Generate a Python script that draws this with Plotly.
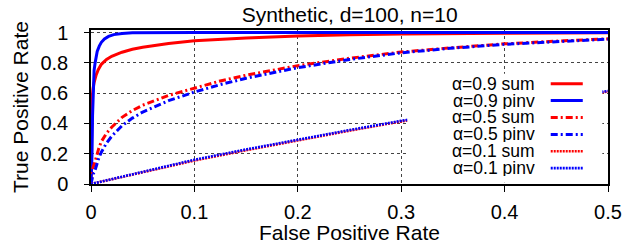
import plotly.graph_objects as go

# ---------------- data ----------------
title_text = "Synthetic, d=100, n=10"
x_title = "False Positive Rate"
y_title = "True Positive Rate"

names = ["α=0.9 sum", "α=0.9 pinv", "α=0.5 sum", "α=0.5 pinv", "α=0.1 sum", "α=0.1 pinv"]
colors = ["#ff0000", "#0000ff", "#ff0000", "#0000ff", "#ff0000", "#0000ff"]
dashes = ["solid", "solid", "7px,3px,2px,3px", "7px,3px,2px,3px", "2px,1px", "2px,1px"]
widths = [3, 3, 3, 3, 2.6, 2.6]

fpr_09_sum = [0, 0.0003, 0.0006, 0.001, 0.002, 0.003, 0.005, 0.007, 0.01, 0.015, 0.02, 0.03,
              0.04, 0.05, 0.075, 0.1, 0.15, 0.2, 0.25, 0.3, 0.4, 0.5]
tpr_09_sum = [0, 0.30, 0.48, 0.56, 0.63, 0.67, 0.72, 0.755, 0.79, 0.822, 0.843, 0.87,
              0.889, 0.903, 0.928, 0.945, 0.964, 0.977, 0.985, 0.99, 0.995, 0.998]

fpr_09_pinv = [0, 0.001, 0.0015, 0.002, 0.0025, 0.003, 0.004, 0.005, 0.006, 0.008, 0.01, 0.013,
               0.017, 0.022, 0.03, 0.04, 0.06, 0.1, 0.2, 0.3, 0.4, 0.5]
tpr_09_pinv = [0, 0.20, 0.45, 0.62, 0.70, 0.75, 0.80, 0.845, 0.875, 0.91, 0.935, 0.957,
               0.974, 0.986, 0.994, 0.998, 0.9995, 1.0, 1.0, 1.0, 1.0, 1.0]

fpr_05 = [0, 0.001, 0.002, 0.0036, 0.005, 0.0075, 0.01, 0.015, 0.02, 0.03, 0.04, 0.05, 0.075,
          0.1, 0.125, 0.15, 0.2, 0.25, 0.3, 0.35, 0.4, 0.45, 0.5]
tpr_05_sum = [0, 0.07, 0.11, 0.14, 0.18, 0.235, 0.28, 0.335, 0.375, 0.44, 0.485, 0.52, 0.585,
              0.633, 0.68, 0.718, 0.781, 0.83, 0.871, 0.90, 0.925, 0.943, 0.958]
tpr_05_pinv = [0, 0.04, 0.065, 0.085, 0.12, 0.17, 0.21, 0.27, 0.315, 0.385, 0.435, 0.475, 0.55,
               0.607, 0.656, 0.698, 0.768, 0.822, 0.866, 0.897, 0.922, 0.941, 0.956]

fpr_01 = [0, 0.05, 0.1, 0.15, 0.2, 0.25, 0.3, 0.35, 0.4, 0.45, 0.5]
tpr_01_sum = [0, 0.078, 0.155, 0.223, 0.289, 0.352, 0.413, 0.466, 0.516, 0.564, 0.610]
tpr_01_pinv = [0, 0.082, 0.160, 0.228, 0.293, 0.356, 0.417, 0.470, 0.520, 0.568, 0.614]

x_ticks = [0, 0.1, 0.2, 0.3, 0.4, 0.5]
x_tick_labels = ["0", "0.1", "0.2", "0.3", "0.4", "0.5"]
y_ticks = [0, 0.2, 0.4, 0.6, 0.8, 1]
y_tick_labels = ["0", "0.2", "0.4", "0.6", "0.8", "1"]

series_x = [fpr_09_sum, fpr_09_pinv, fpr_05, fpr_05, fpr_01, fpr_01]
series_y = [tpr_09_sum, tpr_09_pinv, tpr_05_sum, tpr_05_pinv, tpr_01_sum, tpr_01_pinv]

# ---------------- figure ----------------
FONT = "Liberation Sans, Arial, Helvetica, sans-serif"
fig = go.Figure()
for xs, ys, name, c, d, w in zip(series_x, series_y, names, colors, dashes, widths):
    fig.add_trace(go.Scatter(x=xs, y=ys, mode="lines", name=name,
                             line=dict(color=c, dash=d, width=w), showlegend=False))

# custom gnuplot-style key: white box, right-aligned text, sample to the right
key_x0, key_x1 = 0.306, 0.4945
key_y0, key_y1 = 0.009, 0.728
row_top, row_step = 0.662, 0.1115
text_right = 0.431
samp_x0, samp_x1 = 0.4446, 0.4756

shapes = [dict(type="rect", xref="x", yref="y", x0=key_x0, x1=key_x1, y0=key_y0, y1=key_y1,
               fillcolor="white", line=dict(width=0), layer="above")]
annotations = []
for i, (name, c, d, w) in enumerate(zip(names, colors, dashes, widths)):
    yy = row_top - i * row_step
    shapes.append(dict(type="line", xref="x", yref="y", x0=samp_x0, x1=samp_x1, y0=yy, y1=yy,
                       line=dict(color=c, dash=d, width=w), layer="above"))
    annotations.append(dict(x=text_right, y=yy, xref="x", yref="y", text=name, showarrow=False,
                            xanchor="right", yanchor="middle", height=16,
                            font=dict(family=FONT, size=17.5, color="black")))

# x-axis title placed as a paper-anchored text just below the tick labels
annotations.append(dict(x=0.5, y=-0.318, xref="paper", yref="paper", text=x_title,
                        showarrow=False, xanchor="center", yanchor="middle",
                        font=dict(family=FONT, size=21, color="black")))

fig.update_layout(
    width=630, height=249,
    margin=dict(l=91, r=22, t=30, b=65, autoexpand=False),
    paper_bgcolor="white", plot_bgcolor="white",
    font=dict(family=FONT, size=20, color="black"),
    title=dict(text=title_text, x=0.555, xanchor="center", y=1 - 15 / 249, yanchor="middle",
               yref="container", font=dict(family=FONT, size=21, color="black")),
    shapes=shapes, annotations=annotations,
)
fig.update_xaxes(range=[0, 0.5], tickvals=x_ticks, ticktext=x_tick_labels, automargin=False,
                 showline=True, linecolor="black", linewidth=1.5, mirror=True,
                 ticks="outside", ticklen=6, tickcolor="black", tickwidth=1.2,
                 showgrid=True, gridcolor="#444", griddash="dot", gridwidth=1,
                 zeroline=False, tickfont=dict(size=20), ticklabelstandoff=3)
fig.update_yaxes(range=[0, 1.0165], tickvals=y_ticks, ticktext=y_tick_labels, automargin=False,
                 showline=True, linecolor="black", linewidth=1.5, mirror=True,
                 ticks="outside", ticklen=5, tickcolor="black", tickwidth=1.2,
                 showgrid=True, gridcolor="#444", griddash="dot", gridwidth=1,
                 zeroline=False, tickfont=dict(size=20), ticklabelstandoff=12,
                 title=dict(text=y_title, font=dict(size=21), standoff=6))

fig.write_html("out.html", config={"displayModeBar": False},
               post_script="document.body.style.margin='0';")
